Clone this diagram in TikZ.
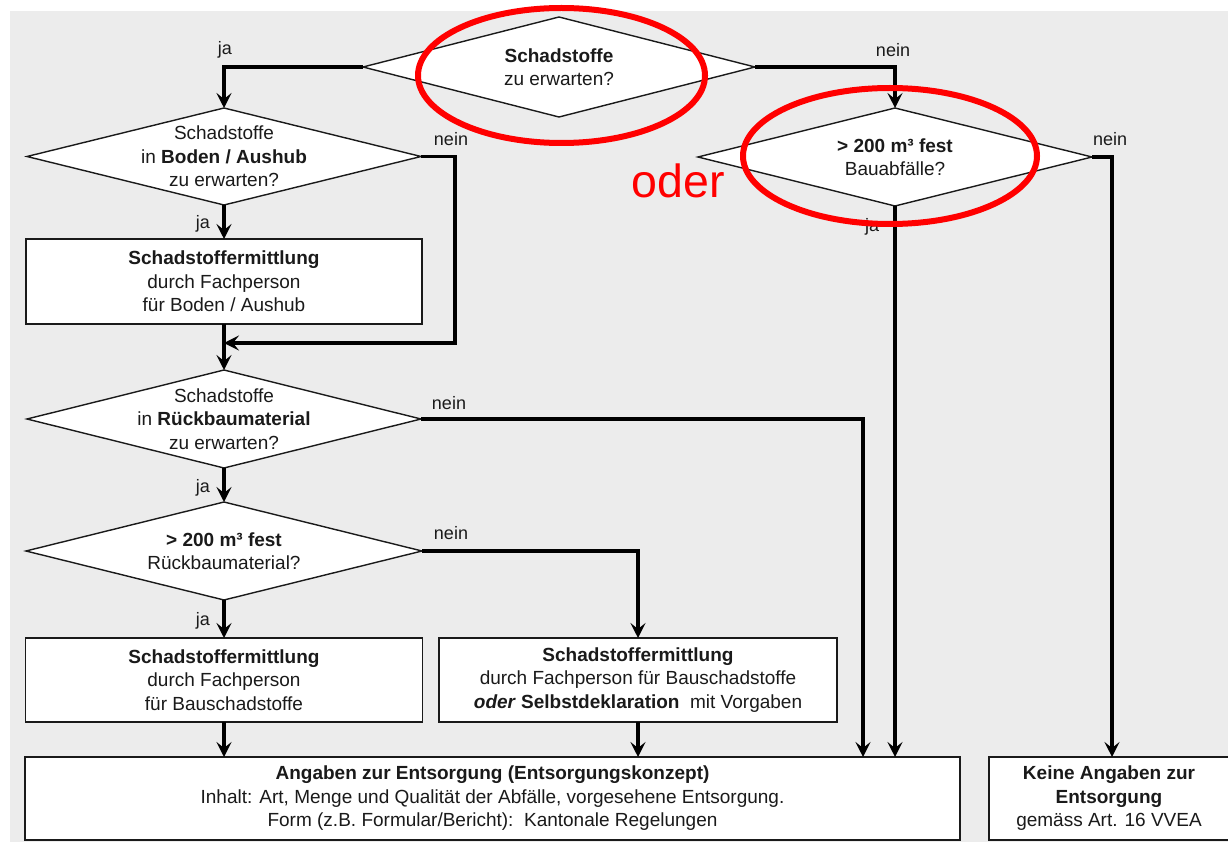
\documentclass[tikz,border=0pt]{standalone}
\usepackage{fontspec}
\setmainfont{Liberation Sans}
\usetikzlibrary{shapes.geometric,arrows.meta}
\definecolor{bg}{HTML}{ECECEC}
\definecolor{ink}{HTML}{1A1A1A}
\definecolor{ringred}{HTML}{FF0000}
\begin{document}
\begin{tikzpicture}[x=1pt,y=-1pt]
\tikzset{
 dia/.style={shape=diamond, draw=ink, line width=1.4pt, fill=white, inner sep=0pt, outer sep=0pt},
 box/.style={rectangle, draw=ink, line width=1.8pt, fill=white, inner sep=0pt, outer sep=0pt, align=center, font=\fontsize{19}{23.5}\selectfont, text=ink},
 txt/.style={align=center, font=\fontsize{19}{23.5}\selectfont, text=ink, inner sep=0pt},
 lbl/.style={font=\fontsize{18}{20}\selectfont, text=ink, inner sep=0pt},
 conn/.style={draw=black, line width=3.3pt, -{Stealth[length=15pt,width=15pt,inset=6pt]}},
 ring/.style={draw=ringred, line width=6pt},
}
\useasboundingbox (0,0) rectangle (1228,842);
\clip (0,0) rectangle (1228,842);
\fill[white] (0,0) rectangle (1228,842);
\fill[bg] (10,11) rectangle (1228,842);

% decisions
\node[dia, minimum width=392pt, minimum height=100pt,
  label={[txt]center:{\textbf{Schadstoffe}\\zu erwarten?}}] (d0) at (559,67) {};
\node[dia, minimum width=394pt, minimum height=97pt,
  label={[txt]center:{Schadstoffe\\in \textbf{Boden / Aushub}\\zu erwarten?}}] (d1) at (224,156.5) {};
\node[dia, minimum width=394pt, minimum height=98pt,
  label={[txt]center:{\textbf{> 200 m³ fest}\\Bauabfälle?}}] (d2) at (895,157) {};
\node[dia, minimum width=394pt, minimum height=98pt,
  label={[txt]center:{Schadstoffe\\in \textbf{Rückbaumaterial}\\zu erwarten?}}] (d3) at (224,419) {};
\node[dia, minimum width=396pt, minimum height=98pt,
  label={[txt]center:{\textbf{> 200 m³ fest}\\Rückbaumaterial?}}] (d4) at (224,551) {};

% boxes
\node[box, minimum width=396pt, minimum height=85pt] (b1) at (224,281.5)
  {\textbf{Schadstoffermittlung}\\durch Fachperson\\für Boden / Aushub};
\node[box, minimum width=397pt, minimum height=84pt] (b2) at (224,680)
  {\textbf{Schadstoffermittlung}\\durch Fachperson\\für Bauschadstoffe};
\node[box, minimum width=398pt, minimum height=84pt] (b3) at (638,680)
  {\textbf{Schadstoffermittlung}\\durch Fachperson für Bauschadstoffe\\\textbf{\textit{oder} Selbstdeklaration}\ \ mit Vorgaben};
\node[box, minimum width=935pt, minimum height=83pt] (big) at (492.5,798.5)
  {\textbf{Angaben zur Entsorgung (Entsorgungskonzept)}\\Inhalt: Art, Menge und Qualität der Abfälle, vorgesehene Entsorgung.\\Form (z.B. Formular/Bericht):\ \ Kantonale Regelungen};
\node[box, minimum width=240pt, minimum height=83pt] (b5) at (1109,798.5)
  {\textbf{Keine Angaben zur}\\\textbf{Entsorgung}\\gemäss Art. 16 VVEA};

% connector points
\coordinate (m1) at (224,343);
\coordinate (inA) at (863,757);
\coordinate (inB) at (895,757);
\coordinate (inC) at (1112,757);
\coordinate (inD) at (224,757);
\coordinate (inE) at (638,757);

% connectors
\draw[conn] (d0.west) -| (d1.north);
\draw[conn] (d0.east) -| (d2.north);
\draw[conn] (d1.south) -- (b1.north);
\draw[conn] (d1.east) -- (455,156.5) |- (m1);
\draw[conn] (b1.south) -- (d3.north);
\draw[conn] (d3.east) -| (inA);
\draw[conn] (d3.south) -- (d4.north);
\draw[conn] (d4.east) -| (b3.north);
\draw[conn] (d4.south) -- (b2.north);
\draw[conn] (b2.south) -- (inD);
\draw[conn] (b3.south) -- (inE);
\draw[conn] (d2.south) -- (inB);
\draw[conn] (d2.east) -| (inC);

% labels
\node[lbl] (l1) at (225,50) {ja};
\node[lbl] (l2) at (893,50) {nein};
\node[lbl] (l3) at (203,224) {ja};
\node[lbl] (l4) at (451,139) {nein};
\node[lbl] (l5) at (449,403) {nein};
\node[lbl] (l6) at (203,488) {ja};
\node[lbl] (l7) at (451,533) {nein};
\node[lbl] (l8) at (203,621) {ja};
\node[lbl] (l9) at (872,227) {ja};
\node[lbl] (l10) at (1110,139) {nein};

% red highlights
\draw[ring] (561.5,75.5) ellipse [x radius=143.5pt, y radius=67.5pt];
\draw[ring] (890,156) ellipse [x radius=147pt, y radius=68pt];
\node[anchor=base, text=ringred, font=\fontsize{46.5}{50}\selectfont, inner sep=0pt] (oder) at (678,198) {oder};
\end{tikzpicture}
\end{document}
